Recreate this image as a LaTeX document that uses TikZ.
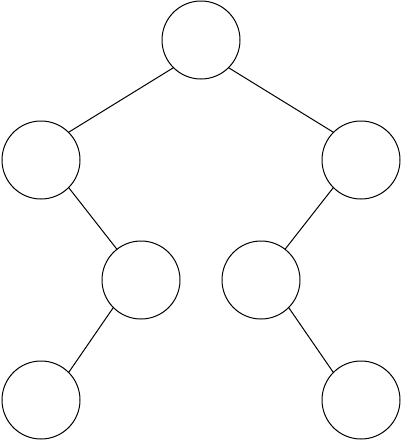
\documentclass[tikz,border=0pt]{standalone}
\usepackage{tikz}

\begin{document}
\begin{tikzpicture}[
    x=1pt, y=-1pt,
    vertex/.style={circle, draw, line width=1pt, minimum size=78pt, inner sep=0pt},
    edge/.style={line width=1pt}
]
    \useasboundingbox (0,0) rectangle (402,442);

    % Root
    \node[vertex] (root) at (201,40) {};

    % Second level
    \node[vertex] (left) at (41,160) {};
    \node[vertex] (right) at (361,160) {};

    % Third level
    \node[vertex] (leftchild) at (141,280) {};
    \node[vertex] (rightchild) at (261,280) {};

    % Leaves
    \node[vertex] (leftleaf) at (41,400) {};
    \node[vertex] (rightleaf) at (361,400) {};

    % Edges
    \draw[edge] (root.south west) -- (left.north east);
    \draw[edge] (root.south east) -- (right.north west);
    \draw[edge] (left.south east) -- (leftchild);
    \draw[edge] (right.south west) -- (rightchild);
    \draw[edge] (leftchild.south west) -- (leftleaf.north east);
    \draw[edge] (rightchild.south east) -- (rightleaf.north west);
\end{tikzpicture}
\end{document}
